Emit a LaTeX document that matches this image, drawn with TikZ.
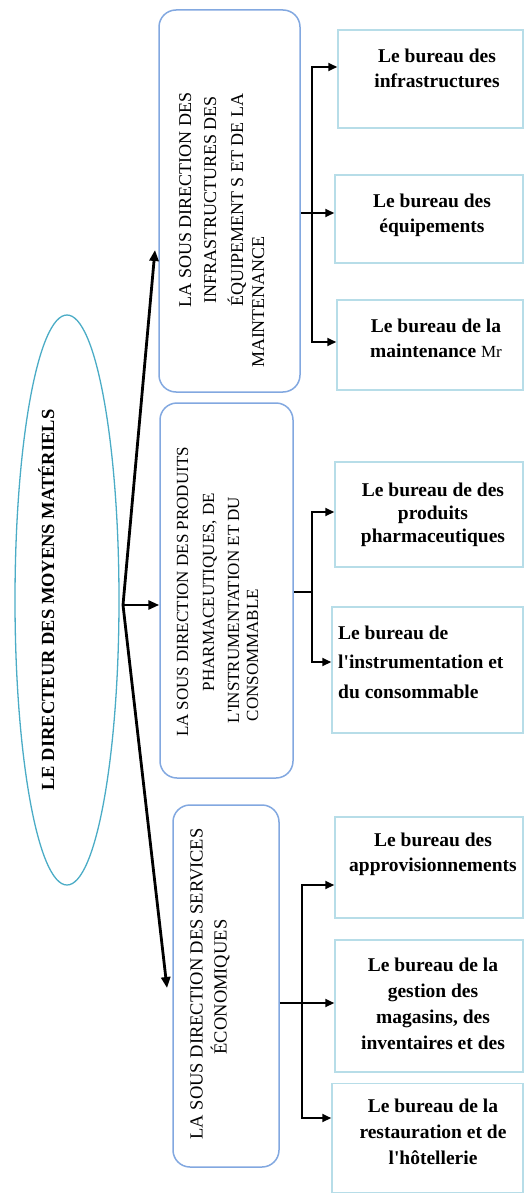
\documentclass[tikz,border=0pt]{standalone}
\usepackage{fontspec}
\setmainfont{Liberation Serif}[Ligatures=TeXOff]
\usetikzlibrary{shapes.geometric,arrows.meta,calc}
\definecolor{ellblue}{RGB}{75,172,198}
\definecolor{subblue}{RGB}{130,168,224}
\definecolor{boxcyan}{RGB}{183,221,232}
\begin{document}
\begin{tikzpicture}[x=1pt,y=-1pt,
  subbox/.style={draw=subblue, line width=1.5pt, rounded corners=17pt, inner sep=0pt},
  bureau/.style={draw=boxcyan, line width=1.5pt, inner sep=0pt},
  vtext/.style={rotate=90, inner sep=0pt, text height=12pt, text depth=0pt,
    font=\fontsize{18}{22}\selectfont, text=black},
  btext/.style={inner sep=0pt, align=center, font=\bfseries\fontsize{19.5}{25}\selectfont},
  link/.style={line width=2pt, -{Triangle[length=9pt,width=8pt]}},
  spoke/.style={line width=2.8pt, -{Triangle[length=11pt,width=9pt]}},
  bar/.style={line width=2pt},
]
\useasboundingbox (0,0) rectangle (525,1193);

% director
\node[ellipse, draw=ellblue, line width=1.3pt, minimum width=104pt,
      minimum height=570pt, inner sep=0pt] (dir) at (67,600) {};
\node[vtext, font=\bfseries\fontsize{18.5}{22}\selectfont] (dirtext) at (48,600)
  {LE DIRECTEUR DES MOYENS MATÉRIELS};

% sub-directions
\node[subbox, minimum width=141pt, minimum height=382pt] (sd1) at (229.5,201) {};
\node[vtext] (sd1a) at (185,200) {LA SOUS DIRECTION DES};
\node[vtext] (sd1b) at (210,200) {INFRASTRUCTURES DES};
\node[vtext] (sd1c) at (237,200) {ÉQUIPEMENT S ET DE LA};
\node[vtext] (sd1d) at (258,302) {MAINTENANCE};

\node[subbox, minimum width=133pt, minimum height=375pt] (sd2) at (226.5,590.5) {};
\node[vtext, font=\fontsize{17}{21}\selectfont] (sd2a) at (182,592) {LA SOUS DIRECTION DES PRODUITS};
\node[vtext, font=\fontsize{17}{21}\selectfont] (sd2b) at (208,592) {PHARMACEUTIQUES, DE};
\node[vtext, font=\fontsize{17}{21}\selectfont] (sd2c) at (233,610) {L'INSTRUMENTATION ET DU};
\node[vtext, font=\fontsize{17}{21}\selectfont] (sd2d) at (252,655) {CONSOMMABLE};

\node[subbox, minimum width=106pt, minimum height=362pt] (sd3) at (226,986) {};
\node[vtext, font=\fontsize{18.5}{22}\selectfont] (sd3a) at (196.5,984) {LA SOUS DIRECTION DES SERVICES};
\node[vtext, font=\fontsize{18.5}{22}\selectfont] (sd3b) at (220.5,987) {ÉCONOMIQUES};

% offices
\node[bureau, minimum width=185pt, minimum height=98pt] (b1) at (430.5,79) {};
\node[btext] (b1t) at (437,68) {Le bureau des\\infrastructures};
\node[bureau, minimum width=188pt, minimum height=88pt] (b2) at (429,219) {};
\node[btext] (b2t) at (432,215) {Le bureau des\\équipements};
\node[bureau, minimum width=186pt, minimum height=90pt] (b3) at (430,345) {};
\node[btext] (b3t) at (436,338) {Le bureau de la\\maintenance {\mdseries\fontsize{17}{25}\selectfont Mr}};

\node[bureau, minimum width=188pt, minimum height=105pt] (b4) at (429,514.5) {};
\node[btext, font=\bfseries\fontsize{19.5}{23}\selectfont] (b4t) at (433,515)
  {Le bureau de des\\produits\\pharmaceutiques};
\node[bureau, minimum width=191pt, minimum height=126pt] (b5) at (427.5,670) {};
\node[btext, align=left, anchor=west, font=\bfseries\fontsize{19.5}{29.5}\selectfont] (b5t) at (338,662)
  {Le bureau de\\l'instrumentation et\\du consommable};

\node[bureau, minimum width=188pt, minimum height=101pt] (b6) at (429,867.5) {};
\node[btext] (b6t) at (433,854) {Le bureau des\\approvisionnements};
\node[bureau, minimum width=188pt, minimum height=132pt] (b7) at (429,1006) {};
\node[btext, font=\bfseries\fontsize{19.5}{26}\selectfont] (b7t) at (433,1004)
  {Le bureau de la\\gestion des\\magasins, des\\inventaires et des};
\node[bureau, minimum width=191pt, minimum height=109pt] (b8) at (427.5,1138) {};
\node[btext, font=\bfseries\fontsize{19.5}{26}\selectfont] (b8t) at (433,1132)
  {Le bureau de la\\restauration et de\\l'hôtellerie};

% director to sub-directions
\coordinate (j) at (123,605);
\coordinate (t1) at (155,250);
\coordinate (t3) at (167,988);
\draw[spoke] (j) -- (t1);
\draw[spoke] (j) -- (j -| sd2.west);
\draw[spoke] (j) -- (t3);

% first sub-direction to its offices
\coordinate (k1) at (312,213);
\coordinate (u1) at (312,67);
\coordinate (d1) at (312,342);
\draw[link] (sd1.east |- k1) -- (k1 -| b2.west);
\draw[link] (k1) -- (u1) -- (u1 -| b1.west);
\draw[link] (k1) -- (d1) -- (d1 -| b3.west);

% second sub-direction to its offices
\coordinate (k2) at (312,592);
\coordinate (u2) at (312,512);
\coordinate (d2) at (312,662);
\draw[bar] (sd2.east |- k2) -- (k2);
\draw[link] (k2) -- (u2) -- (u2 -| b4.west);
\draw[link] (k2) -- (d2) -- (d2 -| b5.west);

% third sub-direction to its offices
\coordinate (k3) at (302,1003);
\coordinate (u3) at (302,885);
\coordinate (d3) at (302,1118);
\draw[link] (sd3.east |- k3) -- (k3 -| b7.west);
\draw[link] (k3) -- (u3) -- (u3 -| b6.west);
\draw[link] (k3) -- (d3) -- (d3 -| b8.west);
\end{tikzpicture}
\end{document}
